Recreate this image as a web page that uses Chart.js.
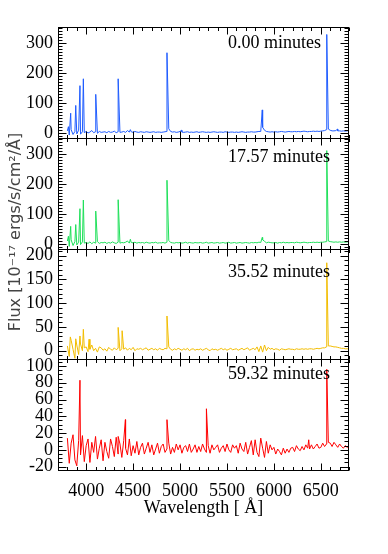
<!DOCTYPE html>
<html>
<head>
<meta charset="utf-8">
<script src="https://cdn.jsdelivr.net/npm/chart.js@4/dist/chart.umd.min.js"></script>
<style>
  html, body { margin: 0; padding: 0; background: #fff; }
</style>
</head>
<body>
<canvas id="spec" width="388" height="554"></canvas>
<script>
// flare spectra, 4 epochs stacked

const wavelength = [
  3800, 3820, 3840, 3860, 3880, 3900, 3920, 3940, 3960, 3980,
  4000, 4020, 4040, 4060, 4080, 4100, 4120, 4140, 4160, 4180,
  4200, 4220, 4240, 4260, 4280, 4300, 4320, 4340, 4360, 4380,
  4400, 4420, 4440, 4460, 4480, 4500, 4520, 4540, 4560, 4580,
  4600, 4620, 4640, 4660, 4680, 4700, 4720, 4740, 4760, 4780,
  4800, 4820, 4840, 4860, 4880, 4900, 4920, 4940, 4960, 4980,
  5000, 5020, 5040, 5060, 5080, 5100, 5120, 5140, 5160, 5180,
  5200, 5220, 5240, 5260, 5280, 5300, 5320, 5340, 5360, 5380,
  5400, 5420, 5440, 5460, 5480, 5500, 5520, 5540, 5560, 5580,
  5600, 5620, 5640, 5660, 5680, 5700, 5720, 5740, 5760, 5780,
  5800, 5820, 5840, 5860, 5880, 5900, 5920, 5940, 5960, 5980,
  6000, 6020, 6040, 6060, 6080, 6100, 6120, 6140, 6160, 6180,
  6200, 6220, 6240, 6260, 6280, 6300, 6320, 6340, 6360, 6380,
  6400, 6420, 6440, 6460, 6480, 6500, 6520, 6540, 6560, 6580,
  6600, 6620, 6640, 6660, 6680, 6700, 6720, 6740, 6760, 6780,
  6800
];

// continuum flux on the wavelength grid (1e-17 erg/s/cm2/A)
const flux00 = [
  8, -6, 12, -4, 6, -2, 10, -3, 5, 2,
  6, 1, 4, 9, 2, 5, 0, 6, 3, 4,
  5, 2, 6, 3, 4, 7, 2, 5, 3, 4,
  6, 3, 9, 4, 5, 3, 6, 4, 3, 5,
  4, 3, 5, 4, 3, 4, 5, 3, 4, 4,
  3, 4, 5, 6, 15, 6, 4, 5, 3, 4,
  6, 4, 3, 4, 5, 3, 4, 3, 4, 5,
  3, 4, 5, 4, 3, 4, 3, 4, 5, 4,
  3, 4, 4, 3, 5, 4, 3, 4, 4, 3,
  4, 3, 4, 5, 4, 3, 4, 4, 5, 4,
  4, 5, 6, 6, 20, 10, 6, 5, 4, 5,
  4, 5, 4, 5, 6, 5, 4, 5, 6, 5,
  5, 6, 5, 6, 5, 6, 7, 6, 5, 6,
  6, 7, 6, 7, 6, 7, 8, 9, 12, 14,
  10, 8, 8, 9, 8, 8, 7, 8, 7, 8,
  8
];
const flux17 = [
  10, -8, 14, -5, 8, -3, 6, -2, 7, 3,
  5, 2, 7, 1, 6, 3, 8, 2, 5, 4,
  6, 2, 5, 3, 7, 4, 2, 6, 3, 5,
  4, 6, 10, 3, 5, 4, 6, 3, 5, 4,
  5, 3, 6, 4, 3, 5, 4, 6, 3, 4,
  4, 5, 3, 6, 12, 5, 4, 3, 5, 4,
  5, 3, 4, 6, 3, 5, 4, 3, 5, 4,
  4, 5, 3, 4, 6, 3, 4, 5, 3, 4,
  5, 3, 4, 5, 3, 4, 6, 3, 4, 5,
  3, 4, 5, 3, 4, 5, 4, 3, 5, 4,
  5, 4, 6, 5, 14, 9, 4, 6, 5, 4,
  4, 5, 3, 5, 4, 6, 4, 5, 4, 5,
  5, 4, 6, 5, 4, 5, 6, 5, 4, 5,
  5, 6, 5, 6, 5, 6, 6, 7, 8, 10,
  8, 7, 6, 7, 6, 7, 6, 7, 6, 7,
  7
];
const flux35 = [
  10, -12, 22, 3, -16, 12, -8, 14, 0, 6,
  8, -2, 3, 12, 0, 5, -3, 8, 6, 1,
  4, -1, 7, 3, 1, 6, 2, 5, 0, 4,
  3, 6, 1, 5, 2, 7, 0, 4, 3, 5,
  2, 4, 6, 1, 3, 5, 2, 4, 1, 5,
  3, 2, 5, 4, 8, 3, 1, 4, 2, 5,
  3, 1, 4, 2, 5, 0, 3, 4, 1, 3,
  2, 4, 1, 3, 5, 2, 0, 4, 2, 3,
  1, 3, 5, 2, 4, 1, 3, 5, 2, 3,
  4, 1, 3, 5, 2, 4, 6, 1, 3, 5,
  2, 8, -2, 10, -3, 12, 0, 7, 3, 5,
  2, 4, 3, 1, 4, 3, 2, 3, 4, 3,
  3, 2, 4, 3, 3, 4, 3, 4, 3, 4,
  4, 3, 4, 5, 4, 5, 6, 6, 8, 10,
  10, 9, 8, 8, 7, 6, 5, 5, 4, 4,
  4
];
const flux59 = [
  14, -16, 8, 18, -12, -19, 11, -6, 17, -14,
  5, 13, -15, 9, -3, 16, -11, 2, 12, -13,
  9, -2, -10, 13, 4, -8, 15, -5, 7, -9,
  11, 2, -6, 13, -7, 5, -4, 10, -6, 3,
  8, -5, 2, 9, -3, 6, -6, 1, 8, -4,
  4, 7, -3, 1, 8, -5, 3, -3, 7, 0,
  6, -4, 3, 5, -2, 7, -3, 1, 6, -3,
  4, -2, 7, 1, -3, 5, -4, 6, 0, 3,
  6, -3, 2, 5, -2, 7, 0, -3, 6, 2,
  5, -4, 8, 1, -2, 9, -5, 3, 11, -6,
  12, -3, -8, 14, 2, -9, 10, -4, 6, 0,
  3, -5, 1, -2, -6, 2, -4, 1, -3, 2,
  3, -2, 5, 1, -1, 4, 0, 6, 2, 1,
  6, 1, 4, 7, 2, 3, 8, 4, 7, 9,
  8, 4, 9, 6, 3, 7, 4, 2, 5, 3,
  4
];

// emission line peaks per epoch
const lineWave00 = [3811, 3835, 3889, 3934, 3970, 4102, 4341, 4471, 4861, 5015, 5876, 6563, 6678];
const lineFlux00 = [22, 67, 93, 159, 182, 130, 182, 12, 269, 10, 78, 330, 14];
const lineWave17 = [3811, 3835, 3889, 3934, 3970, 4102, 4341, 4471, 4861, 5876, 6563];
const lineFlux17 = [26, 59, 65, 118, 147, 110, 148, 16, 213, 22, 312];
const lineWave35 = [3831, 3889, 3934, 3970, 4031, 4341, 4383, 4861, 6563];
const lineFlux35 = [29, 25, 31, 45, 24, 49, 42, 73, 185];
const lineWave59 = [3934, 4341, 4418, 4861, 5281, 6371, 6563];
const lineFlux59 = [83, 16, 36, 36, 49, 12, 96];

const epochLabels = ["0.00 minutes", "17.57 minutes", "35.52 minutes", "59.32 minutes"];
const waveTicks = [4000, 4500, 5000, 5500, 6000, 6500];
const fluxTicks00 = [0, 100, 200, 300];
const fluxTicks17 = [0, 100, 200, 300];
const fluxTicks35 = [0, 50, 100, 150, 200];
const fluxTicks59 = [-20, 0, 20, 40, 60, 80, 100];

const colors = ["#1f5cff", "#1fe05a", "#f2bd00", "#ff0000"];
const serif = "'Liberation Serif', 'Times New Roman', serif";

function buildSeries(flux, lw, lf) {
  const pts = wavelength.map((w, i) => ({ x: w, y: flux[i] }));
  lw.forEach((w, j) => pts.push({ x: w, y: lf[j] }));
  return pts.sort((a, b) => a.x - b.x);
}

const panels = [
  { flux: flux00, lw: lineWave00, lf: lineFlux00, ticks: fluxTicks00, min: -15, max: 355, minor: 10, textDy: 21 },
  { flux: flux17, lw: lineWave17, lf: lineFlux17, ticks: fluxTicks17, min: -15, max: 355, minor: 10, textDy: 24 },
  { flux: flux35, lw: lineWave35, lf: lineFlux35, ticks: fluxTicks35, min: -18, max: 215, minor: 10, textDy: 28 },
  { flux: flux59, lw: lineWave59, lf: lineFlux59, ticks: fluxTicks59, min: -24, max: 108, minor: 5, textDy: 20 }
];

function yAxis(k) {
  const p = panels[k];
  return {
    type: "linear",
    position: "left",
    stack: "spec",
    stackWeight: 1,
    weight: 4 - k,
    min: p.min,
    max: p.max,
    grid: { display: false, drawTicks: false },
    border: { display: false },
    afterBuildTicks: s => { s.ticks = p.ticks.map(v => ({ value: v })); },
    afterFit: s => { s.width = 58; },
    ticks: {
      color: "#000",
      padding: 5,
      autoSkip: false,
      font: { family: serif, size: 18 },
      callback: v => String(v)
    }
  };
}

function line(ctx, x1, y1, x2, y2) {
  ctx.beginPath();
  ctx.moveTo(x1, y1);
  ctx.lineTo(x2, y2);
  ctx.stroke();
}

// box, inward ticks and texts (IDL look)
const framePlugin = {
  id: "framePlugin",
  afterDatasetsDraw(chart) {
    const ctx = chart.ctx;
    const xs = chart.scales.x;
    const left = Math.round(chart.chartArea.left) + 0.5;
    const right = Math.round(chart.chartArea.right) - 0.5;
    ctx.save();
    ctx.strokeStyle = "#000";
    ctx.lineWidth = 1;
    panels.forEach((p, k) => {
      const ys = chart.scales["y" + k];
      const top = Math.round(ys.top) + 0.5;
      const bot = Math.round(ys.bottom) + 0.5;
      ctx.strokeRect(left, top, right - left, bot - top);
      for (let v = 3700; v <= 6800; v += 100) {
        const px = Math.round(xs.getPixelForValue(v)) + 0.5;
        const len = v % 500 === 0 ? 7 : 3.5;
        line(ctx, px, top, px, top + len);
        line(ctx, px, bot, px, bot - len);
      }
      const start = Math.ceil(p.min / p.minor) * p.minor;
      for (let v = start; v <= p.max; v += p.minor) {
        const py = Math.round(ys.getPixelForValue(v)) + 0.5;
        const len = p.ticks.includes(v) ? 8 : 4;
        line(ctx, left, py, left + len, py);
        line(ctx, right, py, right - len, py);
      }
      ctx.fillStyle = "#000";
      ctx.font = "18px " + serif;
      ctx.textAlign = "left";
      ctx.textBaseline = "alphabetic";
      ctx.fillText(epochLabels[k], 228, ys.top + p.textDy);
    });

    ctx.textAlign = "center";
    ctx.fillText("Wavelength [ Å]", (left + right) / 2, 513);

    ctx.translate(16, 232);
    ctx.rotate(-Math.PI / 2);
    ctx.fillStyle = "#444";
    ctx.font = "16px 'DejaVu Sans', sans-serif";
    ctx.textBaseline = "middle";
    ctx.fillText("Flux [10⁻¹⁷ ergs/s/cm²/Å]", 0, 0);
    ctx.restore();
  }
};

const scales = {
  x: {
    type: "linear",
    position: "bottom",
    min: 3700,
    max: 6800,
    grid: { display: false, drawTicks: false },
    border: { display: false },
    afterBuildTicks: s => { s.ticks = waveTicks.map(v => ({ value: v })); },
    afterFit: s => { s.height = 84; },
    ticks: {
      color: "#000",
      padding: 10,
      autoSkip: false,
      maxRotation: 0,
      font: { family: serif, size: 18 },
      callback: v => String(v)
    }
  }
};
panels.forEach((p, k) => { scales["y" + k] = yAxis(k); });

new Chart(document.getElementById("spec"), {
  type: "line",
  data: {
    datasets: panels.map((p, k) => ({
      data: buildSeries(p.flux, p.lw, p.lf),
      xAxisID: "x",
      yAxisID: "y" + k,
      borderColor: colors[k],
      borderWidth: 1,
      pointRadius: 0,
      fill: false,
      tension: 0
    }))
  },
  options: {
    responsive: false,
    animation: false,
    layout: { padding: { left: 0, right: 39, top: 27, bottom: 0 } },
    scales: scales,
    plugins: { legend: { display: false }, tooltip: { enabled: false } }
  },
  plugins: [framePlugin]
});
</script>
</body>
</html>
